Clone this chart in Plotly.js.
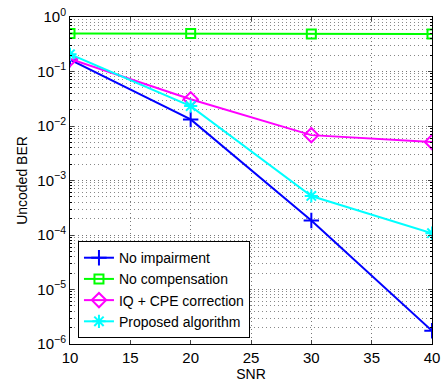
<!DOCTYPE html>
<html>
<head>
<meta charset="utf-8">
<script src="https://cdn.plot.ly/plotly-3.0.1.min.js"></script>
<style>html,body{margin:0;padding:0;background:#fff;}#chart{width:445px;height:382px;}</style>
</head>
<body>
<div id="chart"></div>
<script>
var snr = [10, 20, 30, 40];
var noImpairment = [0.165, 0.0132, 1.84e-4, 1.75e-6];
var noCompensation = [0.50, 0.50, 0.49, 0.49];
var iqCpe = [0.17, 0.031, 6.8e-3, 5.07e-3];
var proposed = [0.207, 0.0232, 5.2e-4, 1.08e-4];
var seriesNames = ['No impairment', 'No compensation', 'IQ + CPE correction', 'Proposed algorithm'];
var yTickVals = [1e-6, 1e-5, 1e-4, 1e-3, 1e-2, 1e-1, 1];
var yTickText = ['10<sup>−6</sup>', '10<sup>−5</sup>', '10<sup>−4</sup>', '10<sup>−3</sup>', '10<sup>−2</sup>', '10<sup>−1</sup>', '10<sup>0</sup>'];
var xTickVals = [10, 15, 20, 25, 30, 35, 40];

var minorVals = [];
for (var e = -6; e < 0; e++) {
  for (var m = 2; m <= 9; m++) minorVals.push(m * Math.pow(10, e));
}

function tr(y, name, color, symbol, size) {
  return {x: snr, y: y, name: name, type: 'scatter', mode: 'lines+markers',
    line: {color: color, width: 2},
    marker: {symbol: symbol, size: size, color: color, line: {color: color, width: 2}}};
}
var data = [
  tr(noImpairment, seriesNames[0], '#0000ff', 'cross-thin-open', 11),
  tr(noCompensation, seriesNames[1], '#00ff00', 'square-open', 9),
  tr(iqCpe, seriesNames[2], '#ff00ff', 'diamond-open', 11),
  tr(proposed, seriesNames[3], '#00ffff', 'asterisk-open', 11)
];
var layout = {
  width: 445, height: 382,
  margin: {l: 70, r: 13, t: 17, b: 38},
  paper_bgcolor: '#fff', plot_bgcolor: '#fff',
  font: {family: 'Liberation Sans, Arial, sans-serif', size: 14, color: '#000'},
  showlegend: true,
  legend: {x: 0.022, y: 0.018, xanchor: 'left', yanchor: 'bottom', bgcolor: '#fff',
    bordercolor: '#000', borderwidth: 1, font: {size: 14}, tracegroupgap: 0, itemwidth: 30},
  xaxis: {range: [10, 40], tickmode: 'array', tickvals: xTickVals, ticks: 'inside', ticklen: 4,
    showline: true, linecolor: '#000', linewidth: 1, mirror: 'ticks',
    showgrid: true, gridcolor: '#777', griddash: '1px,3px', gridwidth: 1, zeroline: false,
    title: {text: 'SNR', standoff: 2, font: {size: 14}}, tickfont: {size: 15}},
  yaxis: {type: 'log', range: [-6, 0], tickmode: 'array', tickvals: yTickVals, ticktext: yTickText,
    ticks: 'inside', ticklen: 4, showline: true, linecolor: '#000', linewidth: 1, mirror: 'ticks',
    showgrid: true, gridcolor: '#777', griddash: '1px,3px', gridwidth: 1, zeroline: false,
    minor: {tickmode: 'array', tickvals: minorVals, showgrid: true, gridcolor: '#888', griddash: '1px,3px',
      ticks: 'inside', ticklen: 2, tickcolor: '#000'},
    title: {text: 'Uncoded BER', standoff: 6, font: {size: 14}}, tickfont: {size: 15}}
};
Plotly.newPlot('chart', data, layout, {displayModeBar: false, staticPlot: true});
</script>
</body>
</html>
